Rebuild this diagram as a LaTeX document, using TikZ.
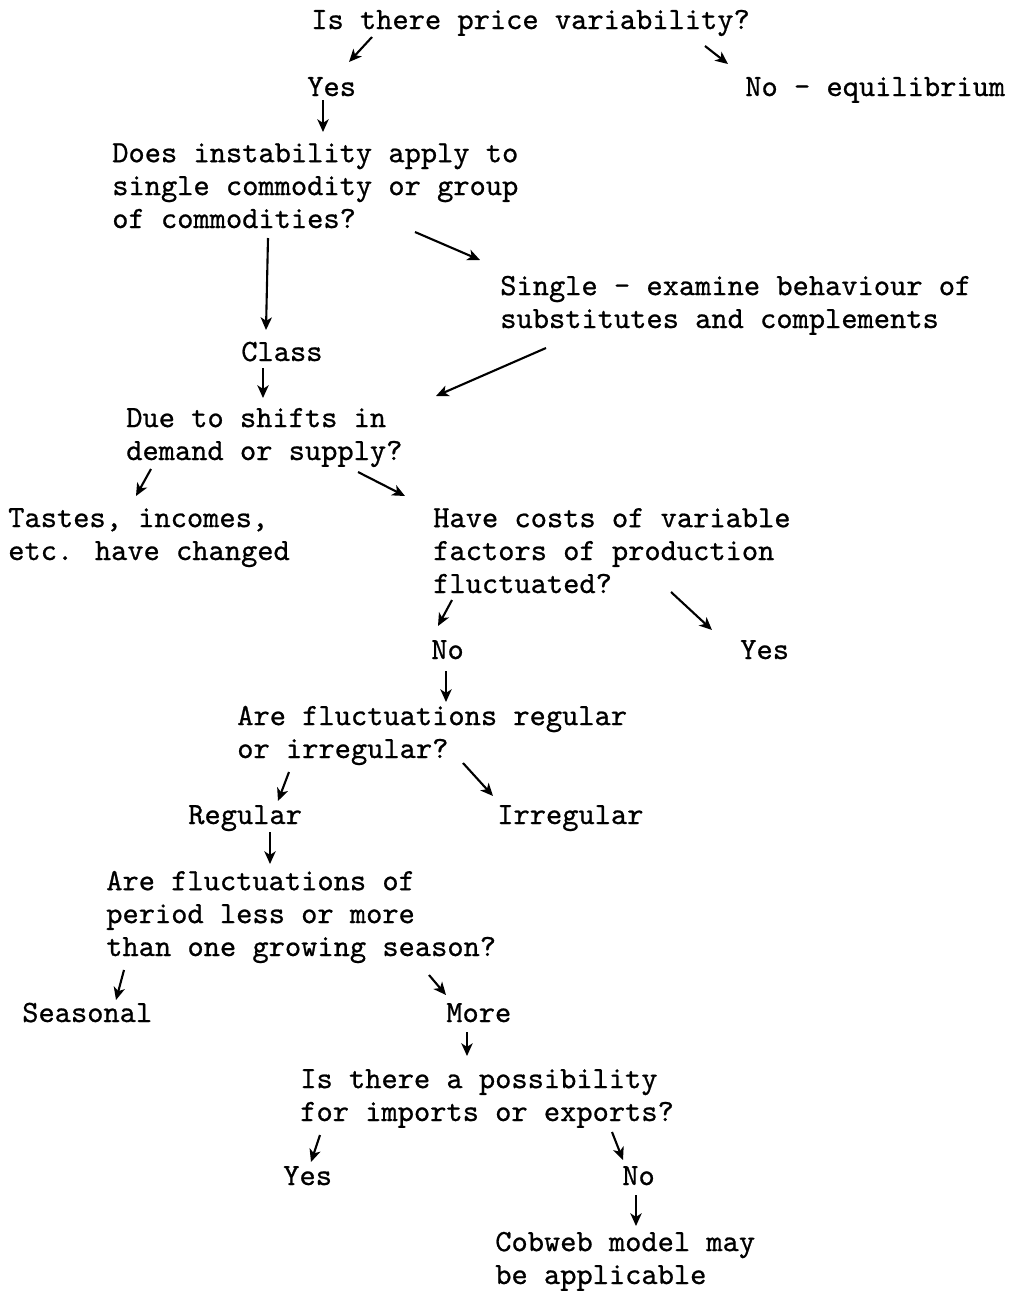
\documentclass[tikz,border=0pt]{standalone}
\usepackage{fontspec}
\newfontfamily\typew{lmmono10-regular.otf}[FakeBold=0.7]
\usetikzlibrary{calc,arrows.meta}

\begin{document}
\begin{tikzpicture}[x=0.025cm,y=-0.025cm,
    txt/.style={anchor=base west,inner sep=0pt,align=left,
      font=\typew\fontsize{22pt}{23.4pt}\selectfont},
    arr/.style={-{Stealth[length=9pt,width=8pt,inset=2.5pt]},line width=1.5pt}]
    \path[fill=white,use as bounding box] (0,0) rectangle (1015,1291);

    % questions and answers (placed at the baseline of their last line)
    \node[txt] (vary) at (311,29) {Is there price variability?};
    \node[txt] (yesA) at (307,96) {Yes};
    \node[txt] (noEq) at (745,96) {No - equilibrium};
    \node[txt] (instab) at (112,228) {Does instability apply to\\single commodity or group\\of commodities?};
    \node[txt] (single) at (500,328) {Single - examine behaviour of\\substitutes and complements};
    \node[txt] (class) at (241,361) {Class};
    \node[txt] (shifts) at (126,460) {Due to shifts in\\demand or supply?};
    \node[txt] (tastes) at (8,560) {Tastes, incomes,\\etc. have changed};
    \node[txt] (costs) at (433,593) {Have costs of variable\\factors of production\\fluctuated?};
    \node[txt] (noB) at (431,659) {No};
    \node[txt] (yesB) at (740,659) {Yes};
    \node[txt] (regq) at (237,758) {Are fluctuations regular\\or irregular?};
    \node[txt] (regular) at (188,824) {Regular};
    \node[txt] (irregular) at (497,824) {Irregular};
    \node[txt] (period) at (106,956) {Are fluctuations of\\period less or more\\than one growing season?};
    \node[txt] (seasonal) at (22,1022) {Seasonal};
    \node[txt] (more) at (446,1022) {More};
    \node[txt] (trade) at (300,1121) {Is there a possibility\\for imports or exports?};
    \node[txt] (yesC) at (283,1185) {Yes};
    \node[txt] (noC) at (622,1185) {No};
    \node[txt] (cobweb) at (495,1284) {Cobweb model may\\be applicable};

    % arrows
    \draw[arr] ($(vary.base west)+(61,8)$) -- ($(yesA.base west)+(42,-34)$);
    \draw[arr] ($(vary.base west)+(394,17)$) -- ($(noEq.base west)+(-17,-32)$);
    \draw[arr] ($(yesA.base west)+(16,4)$) -- ($(instab.base west)+(211,-96)$);
    \draw[arr] ($(instab.base west)+(156,10)$) -- ($(class.base west)+(25,-31)$);
    \draw[arr] ($(instab.base west)+(303,4)$) -- ($(single.base west)+(-20,-68)$);
    \draw[arr] ($(single.base west)+(46,20)$) -- ($(shifts.base west)+(310,-64)$);
    \draw[arr] ($(class.base west)+(22,7)$) -- ($(shifts.base west)+(137,-62)$);
    \draw[arr] ($(shifts.base west)+(25,9)$) -- ($(tastes.base west)+(128,-64)$);
    \draw[arr] ($(shifts.base west)+(232,12)$) -- ($(costs.base west)+(-28,-97)$);
    \draw[arr] ($(costs.base west)+(19,7)$) -- ($(noB.base west)+(7,-33)$);
    \draw[arr] ($(costs.base west)+(238,-1)$) -- ($(yesB.base west)+(-28,-29)$);
    \draw[arr] ($(noB.base west)+(15,12)$) -- ($(regq.base west)+(209,-56)$);
    \draw[arr] ($(regq.base west)+(52,14)$) -- ($(regular.base west)+(90,-23)$);
    \draw[arr] ($(regq.base west)+(226,5)$) -- ($(irregular.base west)+(-4,-28)$);
    \draw[arr] ($(regular.base west)+(82,8)$) -- ($(period.base west)+(164,-92)$);
    \draw[arr] ($(period.base west)+(18,14)$) -- ($(seasonal.base west)+(94,-22)$);
    \draw[arr] ($(period.base west)+(323,19)$) -- ($(more.base west)+(0,-27)$);
    \draw[arr] ($(more.base west)+(21,10)$) -- ($(trade.base west)+(167,-65)$);
    \draw[arr] ($(trade.base west)+(20,14)$) -- ($(yesC.base west)+(28,-23)$);
    \draw[arr] ($(trade.base west)+(312,11)$) -- ($(noC.base west)+(1,-25)$);
    \draw[arr] ($(noC.base west)+(14,10)$) -- ($(cobweb.base west)+(141,-58)$);
\end{tikzpicture}
\end{document}
